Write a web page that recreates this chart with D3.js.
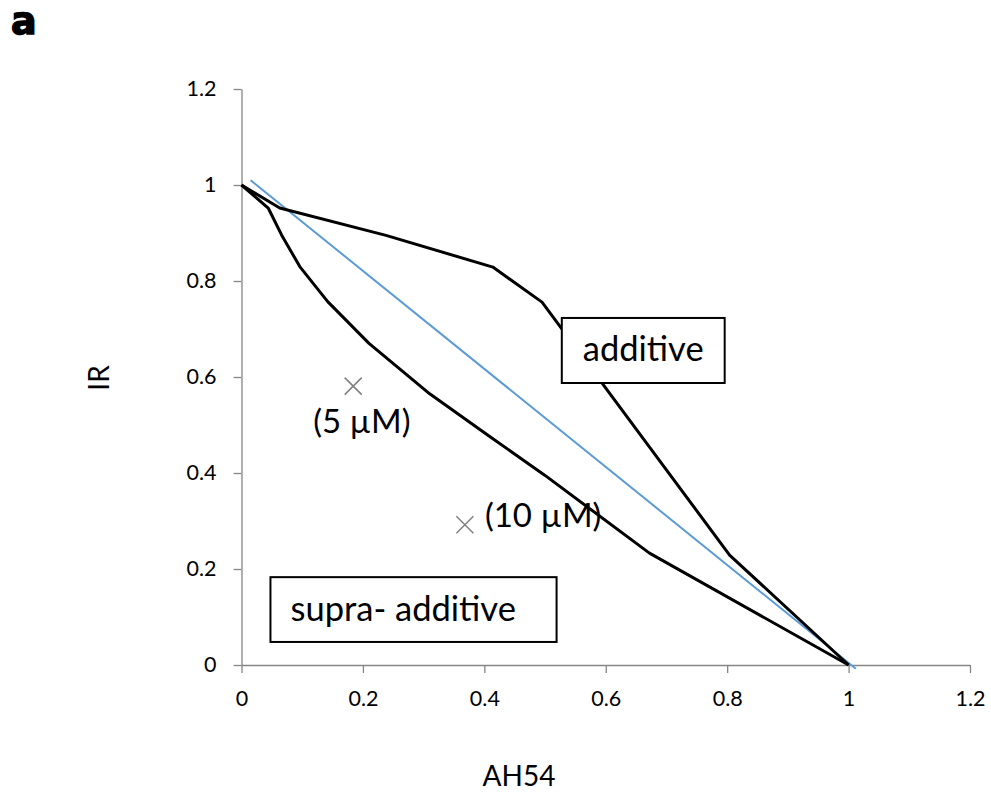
<!DOCTYPE html>
<html>
<head>
<meta charset="utf-8">
<script src="https://cdn.jsdelivr.net/npm/d3@7"></script>
<style>
  body { margin: 0; background: #fff; }
  svg { display: block; }
  text { font-family: Lato, "Open Sans", sans-serif; fill: #000; }
</style>
</head>
<body>
<div class="chart"></div>
<script>
// values
const xTicks = [0, 0.2, 0.4, 0.6, 0.8, 1, 1.2];
const yTicks = [0, 0.2, 0.4, 0.6, 0.8, 1, 1.2];

// upper boundary (additive)
const upperX = [0, 0.063, 0.238, 0.414, 0.495, 0.804, 1];
const upperY = [1, 0.952, 0.895, 0.829, 0.756, 0.229, 0];

// lower boundary (supra-additive)
const lowerX = [0, 0.044, 0.066, 0.096, 0.142, 0.21, 0.31, 0.41, 0.5, 0.672, 1];
const lowerY = [1, 0.952, 0.896, 0.83, 0.757, 0.67, 0.565, 0.475, 0.395, 0.233, 0];

// line of additivity (blue)
const lineX = [0.015, 1.012];
const lineY = [1.01, -0.008];

// measured combinations
const pointX = [0.184, 0.368];
const pointY = [0.581, 0.292];
const pointLabels = ["(5 µM)", "(10 µM)"];

const W = 991, H = 793;
const svg = d3.select(".chart").append("svg")
    .attr("width", W)
    .attr("height", H);

const x = d3.scaleLinear().domain([0, 1.2]).range([241.5, 970]);
const y = d3.scaleLinear().domain([0, 1.2]).range([665, 89]);

const fmt = d => d === 0 ? "0" : d3.format("~g")(d);

// axes
const gx = svg.append("g")
    .attr("transform", "translate(0," + y(0) + ")")
    .call(d3.axisBottom(x).tickValues(xTicks).tickSize(8).tickSizeOuter(0).tickFormat(fmt));
gx.selectAll("text")
    .attr("y", 41).attr("dy", 0)
    .attr("font-size", 21.5);

const gy = svg.append("g")
    .attr("transform", "translate(" + x(0) + ",0)")
    .call(d3.axisLeft(y).tickValues(yTicks).tickSize(8).tickSizeOuter(0).tickPadding(17).tickFormat(fmt));
gy.selectAll("text")
    .attr("font-size", 21.5);

svg.selectAll(".domain, .tick line")
    .attr("stroke", "#868686")
    .attr("stroke-width", 1.3);

// curves
const line = d3.line().x(d => x(d[0])).y(d => y(d[1]));

svg.append("path")
    .datum(d3.zip(lineX, lineY))
    .attr("d", line)
    .attr("fill", "none")
    .attr("stroke", "#5b9bd5")
    .attr("stroke-width", 2);

[d3.zip(upperX, upperY), d3.zip(lowerX, lowerY)].forEach(pts => {
    svg.append("path")
        .datum(pts)
        .attr("d", line)
        .attr("fill", "none")
        .attr("stroke", "#000")
        .attr("stroke-width", 3)
        .attr("stroke-linejoin", "round");
});

// x markers
const pts = d3.zip(pointX, pointY, pointLabels);
const s = 8.5;
const mk = svg.selectAll(".mk").data(pts).enter().append("g")
    .attr("class", "mk")
    .attr("transform", d => "translate(" + x(d[0]) + "," + y(d[1]) + ")");
mk.append("path")
    .attr("d", `M${-s},${-s}L${s},${s}M${-s},${s}L${s},${-s}`)
    .attr("stroke", "#7f7f7f")
    .attr("stroke-width", 1.5);

const labelOffset = [[-40, 47], [20, 2]];
mk.append("text")
    .attr("x", (d, i) => labelOffset[i][0])
    .attr("y", (d, i) => labelOffset[i][1])
    .attr("font-size", 33)
    .text(d => d[2]);

// region boxes (data units)
const boxes = [
    {text: "additive", x0: 0.5276, x1: 0.7959, y0: 0.723, y1: 0.5875},
    {text: "supra- additive", x0: 0.0477, x1: 0.519, y0: 0.183, y1: 0.048}
];
const bx = svg.selectAll(".box").data(boxes).enter().append("g").attr("class", "box");
bx.append("rect")
    .attr("x", d => x(d.x0))
    .attr("y", d => y(d.y0))
    .attr("width", d => x(d.x1) - x(d.x0))
    .attr("height", d => y(d.y1) - y(d.y0))
    .attr("fill", "#fff")
    .attr("stroke", "#000")
    .attr("stroke-width", 2);
bx.append("text")
    .attr("x", (d, i) => i === 0 ? (x(d.x0) + x(d.x1)) / 2 : x(d.x0) + 20)
    .attr("y", d => (y(d.y0) + y(d.y1)) / 2 + 11)
    .attr("text-anchor", (d, i) => i === 0 ? "middle" : "start")
    .attr("font-size", 34.5)
    .text(d => d.text);

// axis titles
svg.append("text")
    .attr("transform", "translate(109,378) rotate(-90)")
    .attr("text-anchor", "middle")
    .attr("font-size", 28)
    .text("IR");
svg.append("text")
    .attr("x", 519)
    .attr("y", 786)
    .attr("text-anchor", "middle")
    .attr("font-size", 28)
    .text("AH54");

// panel label
svg.append("text")
    .attr("x", 11)
    .attr("y", 34)
    .attr("font-weight", "bold")
    .attr("font-size", 38)
    .attr("stroke", "#000")
    .attr("stroke-width", 1.5)
    .style("font-family", "'DejaVu Sans', sans-serif")
    .text("a");
</script>
</body>
</html>
